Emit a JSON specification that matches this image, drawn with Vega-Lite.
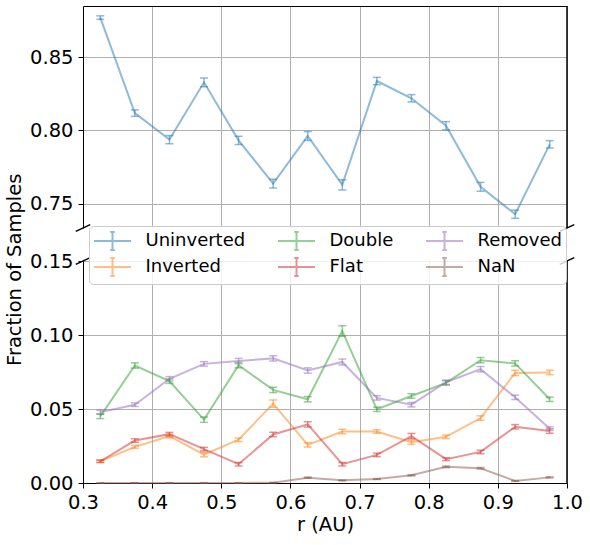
{
  "$schema": "https://vega.github.io/schema/vega-lite/v6.json",
  "padding": {"left": 5, "top": 5, "right": 2, "bottom": 5},
  "config": {
    "font": "DejaVu Sans",
    "view": {"stroke": null},
    "axis": {
      "labelFont": "DejaVu Sans", "labelFontSize": 19.5, "labelColor": "black",
      "titleFont": "DejaVu Sans", "titleFontSize": 19.5, "titleFontWeight": "normal", "titleColor": "black",
      "tickColor": "black", "tickSize": 5, "tickWidth": 1, "domainColor": "black", "domainWidth": 1,
      "gridColor": "#b0b0b0", "gridWidth": 1, "labelPadding": 5, "labelFlush": false, "labelOverlap": false
    },
    "legend": {
      "labelFont": "DejaVu Sans", "labelFontSize": 18, "labelColor": "black", "labelLimit": 0,
      "symbolType": "M-1.85,0H1.85M0,-0.9V0.9M-0.225,-0.9H0.225M-0.225,0.9H0.225",
      "symbolSize": 400, "symbolStrokeWidth": 2, "symbolFillColor": "transparent", "symbolOpacity": 0.5,
      "symbolOffset": 8.5, "labelOffset": 22, "columnPadding": 28, "rowPadding": 0, "padding": 4,
      "fillColor": "rgba(255,255,255,0.8)", "strokeColor": "#cccccc", "cornerRadius": 4
    }
  },
  "title": {"text": "Fraction of Samples", "orient": "left", "anchor": "middle", "font": "DejaVu Sans", "fontSize": 19.5, "fontWeight": "normal", "color": "black"},
  "datasets": {
    "d": [
      {"r": 0.325, "v": 0.877, "e": 0.0012, "s": "Uninverted"},
      {"r": 0.375, "v": 0.8118, "e": 0.0022, "s": "Uninverted"},
      {"r": 0.425, "v": 0.7937, "e": 0.0028, "s": "Uninverted"},
      {"r": 0.475, "v": 0.8328, "e": 0.003, "s": "Uninverted"},
      {"r": 0.525, "v": 0.7932, "e": 0.0028, "s": "Uninverted"},
      {"r": 0.575, "v": 0.7637, "e": 0.003, "s": "Uninverted"},
      {"r": 0.625, "v": 0.7962, "e": 0.003, "s": "Uninverted"},
      {"r": 0.675, "v": 0.7629, "e": 0.0035, "s": "Uninverted"},
      {"r": 0.725, "v": 0.8337, "e": 0.0025, "s": "Uninverted"},
      {"r": 0.775, "v": 0.8219, "e": 0.0025, "s": "Uninverted"},
      {"r": 0.825, "v": 0.8032, "e": 0.0028, "s": "Uninverted"},
      {"r": 0.875, "v": 0.7615, "e": 0.003, "s": "Uninverted"},
      {"r": 0.925, "v": 0.7428, "e": 0.0028, "s": "Uninverted"},
      {"r": 0.975, "v": 0.7905, "e": 0.0025, "s": "Uninverted"},

      {"r": 0.325, "v": 0.0147, "e": 0.0008, "s": "Inverted"},
      {"r": 0.375, "v": 0.0244, "e": 0.001, "s": "Inverted"},
      {"r": 0.425, "v": 0.0317, "e": 0.0012, "s": "Inverted"},
      {"r": 0.475, "v": 0.0192, "e": 0.0015, "s": "Inverted"},
      {"r": 0.525, "v": 0.0292, "e": 0.0012, "s": "Inverted"},
      {"r": 0.575, "v": 0.0536, "e": 0.0025, "s": "Inverted"},
      {"r": 0.625, "v": 0.0258, "e": 0.0015, "s": "Inverted"},
      {"r": 0.675, "v": 0.0348, "e": 0.0015, "s": "Inverted"},
      {"r": 0.725, "v": 0.0348, "e": 0.0012, "s": "Inverted"},
      {"r": 0.775, "v": 0.0276, "e": 0.0015, "s": "Inverted"},
      {"r": 0.825, "v": 0.0312, "e": 0.0012, "s": "Inverted"},
      {"r": 0.875, "v": 0.0439, "e": 0.0015, "s": "Inverted"},
      {"r": 0.925, "v": 0.0744, "e": 0.0018, "s": "Inverted"},
      {"r": 0.975, "v": 0.0747, "e": 0.0015, "s": "Inverted"},

      {"r": 0.325, "v": 0.045, "e": 0.0015, "s": "Double"},
      {"r": 0.375, "v": 0.0794, "e": 0.0018, "s": "Double"},
      {"r": 0.425, "v": 0.0688, "e": 0.0015, "s": "Double"},
      {"r": 0.475, "v": 0.0428, "e": 0.0018, "s": "Double"},
      {"r": 0.525, "v": 0.0796, "e": 0.0018, "s": "Double"},
      {"r": 0.575, "v": 0.0629, "e": 0.0018, "s": "Double"},
      {"r": 0.625, "v": 0.0566, "e": 0.0018, "s": "Double"},
      {"r": 0.675, "v": 0.1027, "e": 0.0035, "s": "Double"},
      {"r": 0.725, "v": 0.0498, "e": 0.0015, "s": "Double"},
      {"r": 0.775, "v": 0.0588, "e": 0.0015, "s": "Double"},
      {"r": 0.825, "v": 0.0676, "e": 0.0015, "s": "Double"},
      {"r": 0.875, "v": 0.083, "e": 0.0018, "s": "Double"},
      {"r": 0.925, "v": 0.0808, "e": 0.0018, "s": "Double"},
      {"r": 0.975, "v": 0.0566, "e": 0.0015, "s": "Double"},

      {"r": 0.325, "v": 0.0147, "e": 0.0008, "s": "Flat"},
      {"r": 0.375, "v": 0.0287, "e": 0.0012, "s": "Flat"},
      {"r": 0.425, "v": 0.033, "e": 0.0012, "s": "Flat"},
      {"r": 0.475, "v": 0.0229, "e": 0.0012, "s": "Flat"},
      {"r": 0.525, "v": 0.0127, "e": 0.0012, "s": "Flat"},
      {"r": 0.575, "v": 0.0328, "e": 0.0015, "s": "Flat"},
      {"r": 0.625, "v": 0.0396, "e": 0.0018, "s": "Flat"},
      {"r": 0.675, "v": 0.0127, "e": 0.0012, "s": "Flat"},
      {"r": 0.725, "v": 0.019, "e": 0.0012, "s": "Flat"},
      {"r": 0.775, "v": 0.0317, "e": 0.0018, "s": "Flat"},
      {"r": 0.825, "v": 0.0161, "e": 0.001, "s": "Flat"},
      {"r": 0.875, "v": 0.021, "e": 0.0012, "s": "Flat"},
      {"r": 0.925, "v": 0.038, "e": 0.0015, "s": "Flat"},
      {"r": 0.975, "v": 0.0351, "e": 0.0015, "s": "Flat"},

      {"r": 0.325, "v": 0.0479, "e": 0.0012, "s": "Removed"},
      {"r": 0.375, "v": 0.0529, "e": 0.0012, "s": "Removed"},
      {"r": 0.425, "v": 0.0704, "e": 0.0015, "s": "Removed"},
      {"r": 0.475, "v": 0.0805, "e": 0.0015, "s": "Removed"},
      {"r": 0.525, "v": 0.0824, "e": 0.0018, "s": "Removed"},
      {"r": 0.575, "v": 0.0842, "e": 0.0018, "s": "Removed"},
      {"r": 0.625, "v": 0.076, "e": 0.0018, "s": "Removed"},
      {"r": 0.675, "v": 0.0818, "e": 0.002, "s": "Removed"},
      {"r": 0.725, "v": 0.0575, "e": 0.0015, "s": "Removed"},
      {"r": 0.775, "v": 0.0529, "e": 0.0015, "s": "Removed"},
      {"r": 0.825, "v": 0.0681, "e": 0.0015, "s": "Removed"},
      {"r": 0.875, "v": 0.0769, "e": 0.0018, "s": "Removed"},
      {"r": 0.925, "v": 0.0579, "e": 0.0015, "s": "Removed"},
      {"r": 0.975, "v": 0.0367, "e": 0.0012, "s": "Removed"},

      {"r": 0.325, "v": 0.0, "e": 0.0001, "s": "NaN"},
      {"r": 0.375, "v": 0.0, "e": 0.0001, "s": "NaN"},
      {"r": 0.425, "v": 0.0, "e": 0.0001, "s": "NaN"},
      {"r": 0.475, "v": 0.0, "e": 0.0001, "s": "NaN"},
      {"r": 0.525, "v": 0.0, "e": 0.0001, "s": "NaN"},
      {"r": 0.575, "v": 0.0002, "e": 0.0001, "s": "NaN"},
      {"r": 0.625, "v": 0.0036, "e": 0.0004, "s": "NaN"},
      {"r": 0.675, "v": 0.0018, "e": 0.0003, "s": "NaN"},
      {"r": 0.725, "v": 0.0027, "e": 0.0003, "s": "NaN"},
      {"r": 0.775, "v": 0.0052, "e": 0.0004, "s": "NaN"},
      {"r": 0.825, "v": 0.0109, "e": 0.0005, "s": "NaN"},
      {"r": 0.875, "v": 0.01, "e": 0.0005, "s": "NaN"},
      {"r": 0.925, "v": 0.0014, "e": 0.0003, "s": "NaN"},
      {"r": 0.975, "v": 0.0038, "e": 0.0004, "s": "NaN"}
    ],
    "brkTop": [
      {"x1": 0.2895, "x2": 0.3105, "y1": 0.73113, "y2": 0.73567},
      {"x1": 0.9895, "x2": 1.0105, "y1": 0.73113, "y2": 0.73567}
    ],
    "brkBot": [
      {"x1": 0.2895, "x2": 0.3105, "y1": 0.14775, "y2": 0.15225},
      {"x1": 0.9895, "x2": 1.0105, "y1": 0.14775, "y2": 0.15225}
    ]
  },
  "bounds": "flush",
  "spacing": 33,
  "vconcat": [
    {
      "width": 484, "height": 222,
      "layer": [
        {
          "data": {"name": "d"},
          "transform": [{"filter": "datum.s === 'Uninverted'"}],
          "mark": {"type": "line", "strokeWidth": 2, "opacity": 0.5},
          "encoding": {
            "x": {"field": "r", "type": "quantitative", "scale": {"domain": [0.3, 1.0], "nice": false, "zero": false},
                  "axis": {"orient": "top", "values": [0.3, 0.4, 0.5, 0.6, 0.7, 0.8, 0.9, 1.0], "labels": false, "ticks": false, "domain": true, "grid": true, "title": null}},
            "y": {"field": "v", "type": "quantitative", "scale": {"domain": [0.7334, 0.8849], "nice": false, "zero": false},
                  "axis": {"values": [0.75, 0.8, 0.85], "format": ".2f", "title": null, "grid": true}},
            "color": {"field": "s", "type": "nominal",
                      "scale": {"domain": ["Uninverted", "Inverted", "Double", "Flat", "Removed", "NaN"], "range": ["#1f77b4", "#ff7f0e", "#2ca02c", "#d62728", "#9467bd", "#8c564b"]},
                      "legend": {"orient": "none", "legendX": 6, "legendY": 220, "columns": 3, "title": null}}
          }
        },
        {
          "data": {"name": "d"},
          "transform": [{"filter": "datum.s === 'Uninverted'"}],
          "mark": {"type": "errorbar", "ticks": {"size": 8, "thickness": 1.5, "opacity": 0.5}, "rule": {"strokeWidth": 1.5, "opacity": 0.5}},
          "encoding": {
            "x": {"field": "r", "type": "quantitative"},
            "y": {"field": "v", "type": "quantitative"},
            "yError": {"field": "e"},
            "color": {"field": "s", "type": "nominal"}
          }
        },
        {
          "data": {"name": "brkTop"},
          "mark": {"type": "rule", "color": "black", "strokeWidth": 1.5, "clip": false},
          "encoding": {
            "x": {"field": "x1", "type": "quantitative"}, "x2": {"field": "x2"},
            "y": {"field": "y1", "type": "quantitative"}, "y2": {"field": "y2"}
          }
        },
        {
          "data": {"name": "brkTop"},
          "mark": {"type": "rule", "color": "black", "strokeWidth": 1},
          "encoding": {"x": {"datum": 1.0, "type": "quantitative"}}
        }
      ]
    },
    {
      "width": 484, "height": 222,
      "layer": [
        {
          "data": {"name": "d"},
          "transform": [{"filter": "datum.s !== 'Uninverted'"}],
          "mark": {"type": "line", "strokeWidth": 2, "opacity": 0.5},
          "encoding": {
            "x": {"field": "r", "type": "quantitative", "scale": {"domain": [0.3, 1.0], "nice": false, "zero": false},
                  "axis": {"orient": "bottom", "values": [0.3, 0.4, 0.5, 0.6, 0.7, 0.8, 0.9, 1.0], "format": ".1f", "grid": true, "title": "r (AU)"}},
            "y": {"field": "v", "type": "quantitative", "scale": {"domain": [0, 0.15], "nice": false},
                  "axis": {"values": [0, 0.05, 0.1, 0.15], "format": ".2f", "title": null, "grid": true}},
            "color": {"field": "s", "type": "nominal"}
          }
        },
        {
          "data": {"name": "d"},
          "transform": [{"filter": "datum.s !== 'Uninverted'"}],
          "mark": {"type": "errorbar", "ticks": {"size": 8, "thickness": 1.5, "opacity": 0.5}, "rule": {"strokeWidth": 1.5, "opacity": 0.5}},
          "encoding": {
            "x": {"field": "r", "type": "quantitative"},
            "y": {"field": "v", "type": "quantitative"},
            "yError": {"field": "e"},
            "color": {"field": "s", "type": "nominal"}
          }
        },
        {
          "data": {"name": "brkBot"},
          "mark": {"type": "rule", "color": "black", "strokeWidth": 1.5, "clip": false},
          "encoding": {
            "x": {"field": "x1", "type": "quantitative"}, "x2": {"field": "x2"},
            "y": {"field": "y1", "type": "quantitative"}, "y2": {"field": "y2"}
          }
        },
        {
          "data": {"name": "brkBot"},
          "mark": {"type": "rule", "color": "black", "strokeWidth": 1},
          "encoding": {"x": {"datum": 1.0, "type": "quantitative"}}
        }
      ]
    }
  ]
}
